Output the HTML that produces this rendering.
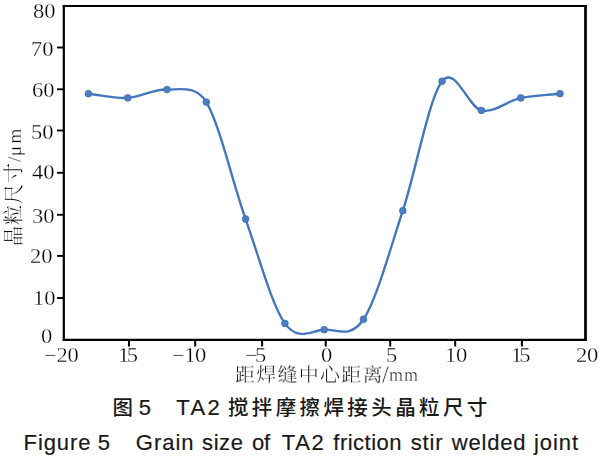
<!DOCTYPE html>
<html lang="zh-CN">
<head>
<meta charset="utf-8">
<title>Figure 5 Grain size of TA2 friction stir welded joint</title>
<style>
html,body{margin:0;padding:0;background:#fff;}
body{width:603px;height:460px;overflow:hidden;position:relative;}
#fig{position:absolute;left:0;top:0;width:603px;height:460px;background:#fff;overflow:hidden;}
.g{position:absolute;left:0;top:0;width:0;height:0;}
.t{display:block;position:absolute;white-space:nowrap;color:#000;line-height:1;will-change:transform;}
.num{font-family:"Liberation Serif","Noto Serif CJK SC",serif;font-size:20.5px;-webkit-text-stroke:0.28px #fff;transform-origin:0 0;transform:scaleX(1.1);}
.axis{font-family:"Liberation Serif","Noto Serif CJK SC",serif;font-weight:300;-webkit-text-stroke:0.1px #fff;}
.lat{-webkit-text-stroke:0.35px #fff;}
.rot{transform-origin:0 0;transform:rotate(-90deg);}
.cap{font-family:"Liberation Sans","Noto Sans CJK SC",sans-serif;color:#1a1a1a;-webkit-text-stroke:0.2px #1a1a1a;will-change:auto;}
.cj{font-weight:500;-webkit-text-stroke:0;}
</style>
</head>
<body>
<div id="fig">

<svg width="603" height="460" viewBox="0 0 603 460" style="position:absolute;left:0;top:0">
<g stroke="#000" fill="none" stroke-linecap="butt">
<line x1="63.80" y1="5.00" x2="63.80" y2="341.00" stroke-width="2.2"/>
<line x1="585.50" y1="5.00" x2="585.50" y2="341.00" stroke-width="2.7"/>
<line x1="62.70" y1="6.00" x2="586.85" y2="6.00" stroke-width="2.0"/>
<line x1="62.70" y1="339.92" x2="586.85" y2="339.92" stroke-width="2.15"/>
<line x1="129.00" y1="339.92" x2="129.00" y2="346.50" stroke-width="2"/>
<line x1="195.20" y1="339.92" x2="195.20" y2="346.50" stroke-width="2"/>
<line x1="262.10" y1="339.92" x2="262.10" y2="346.50" stroke-width="2"/>
<line x1="325.70" y1="339.92" x2="325.70" y2="346.50" stroke-width="2"/>
<line x1="390.20" y1="339.92" x2="390.20" y2="346.50" stroke-width="2"/>
<line x1="455.20" y1="339.92" x2="455.20" y2="346.50" stroke-width="2"/>
<line x1="521.90" y1="339.92" x2="521.90" y2="346.50" stroke-width="2"/>
<line x1="57.00" y1="47.50" x2="63.80" y2="47.50" stroke-width="1.9"/>
<line x1="57.00" y1="89.30" x2="63.80" y2="89.30" stroke-width="1.9"/>
<line x1="57.00" y1="130.50" x2="63.80" y2="130.50" stroke-width="1.9"/>
<line x1="57.00" y1="172.80" x2="63.80" y2="172.80" stroke-width="1.9"/>
<line x1="57.00" y1="214.80" x2="63.80" y2="214.80" stroke-width="1.9"/>
<line x1="57.00" y1="255.90" x2="63.80" y2="255.90" stroke-width="1.9"/>
<line x1="57.00" y1="298.00" x2="63.80" y2="298.00" stroke-width="1.9"/>
</g>
<path d="M88.40 93.71 C101.50 95.11 114.60 98.59 127.70 97.89 C140.80 97.20 153.90 88.84 167.00 89.54 C177.70 90.11 195.60 84.44 206.30 102.07 C219.40 123.65 232.50 182.12 245.60 219.02 C258.70 255.92 271.80 304.99 284.90 323.44 C298.00 341.89 311.10 330.40 324.20 329.71 C337.30 329.01 350.40 339.11 363.50 319.27 C376.60 299.43 389.70 250.35 402.80 210.67 C415.90 170.99 429.00 97.89 442.10 81.18 C455.20 64.48 468.30 107.64 481.40 110.42 C494.50 113.21 507.60 100.68 520.70 97.89 C533.80 95.11 546.90 95.11 560.00 93.71" fill="none" stroke="#4476bb" stroke-width="2.35" stroke-linejoin="round" stroke-linecap="round"/>
<circle cx="88.40" cy="93.71" r="3.4" fill="#4a7ebf" stroke="#3d70b6" stroke-width="0.7"/>
<circle cx="127.70" cy="97.89" r="3.4" fill="#4a7ebf" stroke="#3d70b6" stroke-width="0.7"/>
<circle cx="167.00" cy="89.54" r="3.4" fill="#4a7ebf" stroke="#3d70b6" stroke-width="0.7"/>
<circle cx="206.30" cy="102.07" r="3.4" fill="#4a7ebf" stroke="#3d70b6" stroke-width="0.7"/>
<circle cx="245.60" cy="219.02" r="3.4" fill="#4a7ebf" stroke="#3d70b6" stroke-width="0.7"/>
<circle cx="284.90" cy="323.44" r="3.4" fill="#4a7ebf" stroke="#3d70b6" stroke-width="0.7"/>
<circle cx="324.20" cy="329.71" r="3.4" fill="#4a7ebf" stroke="#3d70b6" stroke-width="0.7"/>
<circle cx="363.50" cy="319.27" r="3.4" fill="#4a7ebf" stroke="#3d70b6" stroke-width="0.7"/>
<circle cx="402.80" cy="210.67" r="3.4" fill="#4a7ebf" stroke="#3d70b6" stroke-width="0.7"/>
<circle cx="442.10" cy="81.18" r="3.4" fill="#4a7ebf" stroke="#3d70b6" stroke-width="0.7"/>
<circle cx="481.40" cy="110.42" r="3.4" fill="#4a7ebf" stroke="#3d70b6" stroke-width="0.7"/>
<circle cx="520.70" cy="97.89" r="3.4" fill="#4a7ebf" stroke="#3d70b6" stroke-width="0.7"/>
<circle cx="560.00" cy="93.71" r="3.4" fill="#4a7ebf" stroke="#3d70b6" stroke-width="0.7"/>
</svg>
<div class="t num" id="y80" style="left:33.00px;top:1.00px;letter-spacing:0px">80</div>
<div class="t num" id="y70" style="left:31.00px;top:39.00px;letter-spacing:0px">70</div>
<div class="t num" id="y60" style="left:32.00px;top:80.00px;letter-spacing:0px">60</div>
<div class="t num" id="y50" style="left:31.00px;top:122.00px;letter-spacing:0px">50</div>
<div class="t num" id="y40" style="left:32.00px;top:162.00px;letter-spacing:0px">40</div>
<div class="t num" id="y30" style="left:32.00px;top:206.00px;letter-spacing:0px">30</div>
<div class="t num" id="y20" style="left:30.00px;top:246.00px;letter-spacing:0px">20</div>
<div class="t num" id="y10" style="left:33.00px;top:288.00px;letter-spacing:0px">10</div>
<div class="t num" id="y0" style="left:41.00px;top:326.00px;letter-spacing:0px">0</div>
<div class="t num" id="xm20" style="left:44.00px;top:345.00px;letter-spacing:-0.25px">−20</div>
<div class="t num" id="xm15" style="left:118.00px;top:345.00px;letter-spacing:-2.2px">15</div>
<div class="t num" id="xm10" style="left:172.00px;top:345.00px;letter-spacing:-0.45px">−10</div>
<div class="t num" id="xm5" style="left:245.00px;top:345.00px;letter-spacing:-2.4px">−5</div>
<div class="t num" id="x0" style="left:321.00px;top:345.00px;">0</div>
<div class="t num" id="x5" style="left:386.00px;top:345.00px;">5</div>
<div class="t num" id="x10" style="left:445.00px;top:345.00px;letter-spacing:-0.3px">10</div>
<div class="t num" id="x15" style="left:511.00px;top:345.00px;letter-spacing:-2.8px">15</div>
<div class="t num" id="x20" style="left:576.00px;top:345.00px;letter-spacing:-0.3px">20</div>
<div class="t axis rot" id="yt" style="left:4.00px;top:246.00px;font-size:20px;letter-spacing:1.0px">晶粒尺寸<span class="lat" style="letter-spacing:0.3px;font-size:19.5px">/<span style="letter-spacing:2.0px">μ</span>m</span></div>
<div class="g" id="xt"><span class="t axis" id="xt1" style="left:235.00px;top:365.00px;font-size:20px;letter-spacing:1.25px;transform:scaleY(0.93)">距焊缝中心距离</span><span class="t axis lat" id="xt2" style="left:382.00px;top:363.00px;font-size:24.7px">/</span><span class="t axis lat" id="xt3" style="left:389.00px;top:366.00px;font-size:18px;letter-spacing:1.0px">mm</span></div>
<div class="g" id="c1"><span class="t cap cj" id="c1a" style="left:112.60px;top:397.72px;font-size:20.5px">图</span> <span class="t cap" id="c1b" style="left:138.77px;top:397.16px;font-size:22px">5</span> <span class="t cap" id="c1c" style="left:176.22px;top:397.15px;font-size:22px;letter-spacing:2.4px">TA2</span> <span class="t cap cj" id="c1d" style="left:227.89px;top:398.18px;font-size:20.5px;letter-spacing:3.4px">搅拌摩擦焊接头晶粒尺寸</span></div>
<div class="g" id="c2"><span class="t cap en" id="w0" style="left:23.62px;top:432.20px;font-size:22px;letter-spacing:0.90px">Figure</span> <span class="t cap en" id="w1" style="left:97.81px;top:432.20px;font-size:22px;letter-spacing:0.00px">5</span> <span class="t cap en" id="w2" style="left:135.79px;top:432.20px;font-size:22px;letter-spacing:1.00px">Grain</span> <span class="t cap en" id="w3" style="left:202.11px;top:432.20px;font-size:22px;letter-spacing:0.55px">size</span> <span class="t cap en" id="w4" style="left:251.89px;top:432.20px;font-size:22px;letter-spacing:0.00px">of</span> <span class="t cap en" id="w5" style="left:281.83px;top:432.20px;font-size:22px;letter-spacing:1.60px">TA2</span> <span class="t cap en" id="w6" style="left:333.29px;top:432.20px;font-size:22px;letter-spacing:0.50px">friction</span> <span class="t cap en" id="w7" style="left:410.66px;top:432.20px;font-size:22px;letter-spacing:0.90px">stir</span> <span class="t cap en" id="w8" style="left:451.85px;top:432.20px;font-size:22px;letter-spacing:0.80px">welded</span> <span class="t cap en" id="w9" style="left:533.90px;top:432.20px;font-size:22px;letter-spacing:0.95px">joint</span></div>
</div>
</body>
</html>
